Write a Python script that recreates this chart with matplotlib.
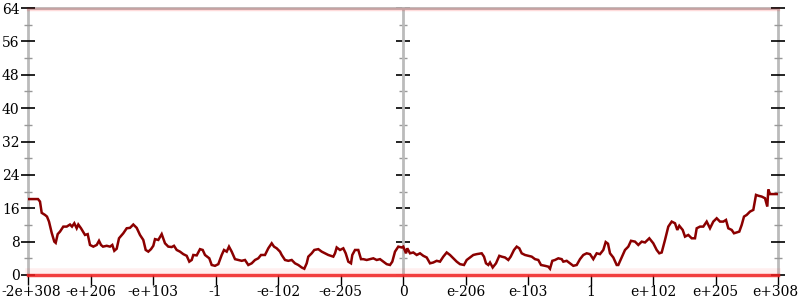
import matplotlib
matplotlib.use("Agg")
import matplotlib.pyplot as plt
from matplotlib.ticker import MultipleLocator
from matplotlib.transforms import ScaledTranslation

plt.rcParams['font.family'] = ['DejaVu Serif']

# x tick labels (ordinal float axis, 12 equal intervals)
tick_labels = ["-2e+308", "-e+206", "-e+103", "-1", "-e-102", "-e-205", "0",
               "e-206", "e-103", "1", "e+102", "e+205", "e+308"]
x_span = 750.0          # ordinal positions 0..750
y_max = 64

# Average error line (ordinal position, bits of error)
x_pos = [
    0, 10, 12, 13.7, 17, 19, 21, 23.7, 26.3, 27.7,
    29.7, 32, 35.3, 38.7, 42, 44, 46.3, 48.7, 50.3, 53,
    57, 59.7, 62, 65.3, 68.7, 71, 73, 75, 78.7, 82,
    84.3, 86.3, 88.7, 91, 95.3, 98.7, 102, 105.3, 108.7, 112,
    115.3, 117.7, 120.3, 123, 125.3, 127, 130.3, 133.7, 137, 140.3,
    143.7, 146, 148.7, 152, 155.3, 158.7, 161.3, 163.7, 165.3, 168.7,
    172, 174.7, 177, 181.3, 183.7, 187, 190.3, 193.7, 196, 198.7,
    201, 203.7, 207, 210.3, 213.7, 217, 220.3, 223.7, 227, 230.3,
    233, 237, 240.3, 243.7, 246, 248.7, 252, 253.7, 257, 260.3,
    263.7, 267, 270.3, 273.7, 276.3, 278.7, 280.3, 283.7, 286.3, 290.3,
    293.7, 297, 300.3, 305.3, 307, 308.7, 312, 315.3, 317.7, 320.3,
    323, 324.3, 327, 330.3, 333, 335.3, 338.7, 342, 345.3, 348.7,
    352, 355.3, 358.7, 362, 364.3, 367, 370.3, 373.7, 375.3, 378,
    379.3, 382, 385.3, 388.7, 392, 395.3, 398.7, 402, 405.3, 408.7,
    412, 415.3, 418.7, 422, 425.3, 428.7, 432, 436, 438.7, 442,
    445.3, 448.7, 453.7, 456, 458, 460.3, 462, 464.7, 468, 471.3,
    473.7, 477, 480.3, 482.7, 486, 488.7, 491.3, 493.7, 497, 500.3,
    503.7, 507, 510.3, 513, 517, 520.3, 522, 524.3, 527, 530.3,
    533.7, 535.3, 538.7, 542, 545.3, 548.7, 552, 555.3, 558.7, 562,
    565.3, 568.7, 572, 575.3, 577.7, 580, 582, 585.3, 588.7, 590.3,
    593.7, 597, 600.3, 603, 607, 610.3, 613.7, 617, 621.3, 625.3,
    628.7, 631.3, 633.7, 637, 640.3, 643.7, 647, 649.3, 651.3, 654.7,
    657, 660.3, 663.7, 667, 668.7, 672, 675.3, 678.7, 682, 685.3,
    688.7, 692, 695.3, 698, 700.3, 703.7, 706, 708.7, 711.3, 713.7,
    716, 718.7, 722, 725.3, 728, 730.3, 733.7, 737, 739.3, 740.3,
    742, 750,
]
avg_error = [
    18.2, 18.2, 17.6, 14.9, 14.4, 14.0, 12.8, 10.1, 8.0, 7.7,
    9.8, 10.4, 11.6, 11.6, 12.1, 11.6, 12.4, 11.2, 12.1, 11.2,
    9.6, 9.8, 7.2, 6.8, 7.2, 8.2, 7.2, 6.8, 7.0, 6.8,
    7.2, 5.8, 6.3, 8.8, 10.0, 11.2, 11.3, 12.1, 11.3, 9.6,
    8.4, 6.0, 5.6, 6.2, 7.0, 8.6, 8.4, 9.8, 7.6, 6.8,
    6.7, 7.0, 6.0, 5.6, 5.0, 4.6, 3.2, 3.6, 4.8, 4.7,
    6.2, 6.0, 4.8, 4.0, 2.4, 2.2, 2.6, 4.8, 6.0, 5.6,
    6.8, 5.6, 3.8, 3.6, 3.4, 3.6, 2.4, 2.8, 3.6, 4.0,
    4.8, 4.8, 6.4, 7.6, 6.8, 6.4, 5.6, 4.8, 3.6, 3.4,
    3.6, 2.8, 2.4, 1.8, 1.5, 2.8, 4.4, 5.2, 6.0, 6.2,
    5.6, 5.2, 4.8, 4.4, 5.2, 6.6, 6.0, 6.4, 5.2, 3.2,
    2.8, 4.8, 6.0, 6.0, 3.8, 3.8, 3.6, 3.8, 4.0, 3.6,
    3.8, 3.2, 2.6, 2.4, 3.2, 5.6, 6.8, 6.6, 6.8, 5.2,
    6.4, 5.2, 5.4, 4.8, 5.2, 4.6, 4.2, 2.8, 3.0, 3.4,
    3.2, 4.4, 5.4, 4.8, 4.0, 3.2, 2.6, 2.4, 3.6, 4.2,
    4.8, 5.0, 5.2, 4.4, 2.8, 2.4, 3.0, 1.8, 2.8, 4.6,
    4.4, 4.2, 3.6, 4.4, 6.0, 6.8, 6.4, 5.2, 4.8, 4.6,
    4.4, 3.8, 3.6, 2.4, 2.2, 2.0, 1.5, 3.4, 3.6, 4.0,
    3.8, 3.2, 3.4, 2.8, 2.2, 2.4, 3.8, 4.8, 5.2, 5.0,
    3.8, 5.2, 5.0, 6.0, 7.9, 7.5, 5.2, 4.2, 2.4, 2.4,
    4.2, 6.0, 6.8, 8.2, 8.0, 7.2, 8.0, 7.8, 8.8, 7.6,
    6.0, 5.2, 5.4, 8.4, 11.6, 12.8, 12.4, 10.8, 11.8, 10.8,
    9.2, 9.6, 8.8, 8.8, 11.2, 11.6, 11.6, 12.8, 11.2, 12.8,
    13.6, 12.8, 12.8, 13.2, 11.2, 10.8, 10.0, 10.2, 10.4, 12.0,
    14.0, 14.4, 15.2, 15.6, 19.2, 19.0, 18.8, 18.4, 16.4, 20.5,
    19.4, 19.4,
]

# Dense bands of individual sample points (error level, opacity)
band_levels = [0.0, 1.0, 63.75]
band_alphas = [0.8, 0.07, 0.16]
band_widths = [2.5, 4.0, 2.5]

W, H = 800, 300
fig = plt.figure(figsize=(8, 3), dpi=100)
pos = [28 / W, 25 / H, 750 / W, 267 / H]
ax = fig.add_axes(pos)
ax.set_xlim(0, x_span)
ax.set_ylim(0, y_max)

for lvl, al, lw in zip(band_levels, band_alphas, band_widths):
    ax.axhline(lvl, color='#ff2020', alpha=al, lw=lw, clip_on=False, zorder=2)

ax.plot(x_pos, avg_error, color='#8b0000', lw=1.8, zorder=3,
        solid_joinstyle='miter')

n = len(tick_labels)
ax.set_xticks([i * x_span / (n - 1) for i in range(n)])
ax.set_xticklabels(tick_labels, fontsize=10)
ax.yaxis.set_major_locator(MultipleLocator(8))
ax.yaxis.set_minor_locator(MultipleLocator(4))
ax.tick_params(axis='x', direction='out', length=7, width=1, color='black',
               pad=0.5, labelsize=10)
ax.tick_params(axis='y', which='major', direction='inout', length=10, width=1.2,
               color='black', left=True, right=True, labelsize=10, pad=1)
ax.tick_params(axis='y', which='minor', direction='inout', length=6, width=1,
               color='#999999', left=True, right=True)
for s in ax.spines.values():
    s.set_color('#bbbbbb')
    s.set_linewidth(2)
    s.set_zorder(1)

# keep the outermost labels inside the canvas
xl = ax.get_xticklabels()
xl[0].set_transform(xl[0].get_transform() + ScaledTranslation(3 / 100, 0, fig.dpi_scale_trans))
xl[-1].set_transform(xl[-1].get_transform() + ScaledTranslation(-3 / 100, 0, fig.dpi_scale_trans))

# centre axis at 0
ax2 = fig.add_axes(pos, sharey=ax)
ax2.patch.set_visible(False)
ax2.set_xlim(0, x_span)
for k in ['right', 'top', 'bottom']:
    ax2.spines[k].set_visible(False)
ax2.spines['left'].set_position(('axes', 0.5))
ax2.spines['left'].set_color('#bbbbbb')
ax2.spines['left'].set_linewidth(2)
ax2.set_xticks([])
ax2.tick_params(axis='y', which='major', direction='inout', length=10, width=1.2,
                color='black', labelleft=False)
ax2.tick_params(axis='y', which='minor', direction='inout', length=6, width=1,
                color='#999999')
ax2.set_zorder(0)
ax.set_zorder(1)
ax.patch.set_visible(False)

fig.savefig('out.png', dpi=100)
